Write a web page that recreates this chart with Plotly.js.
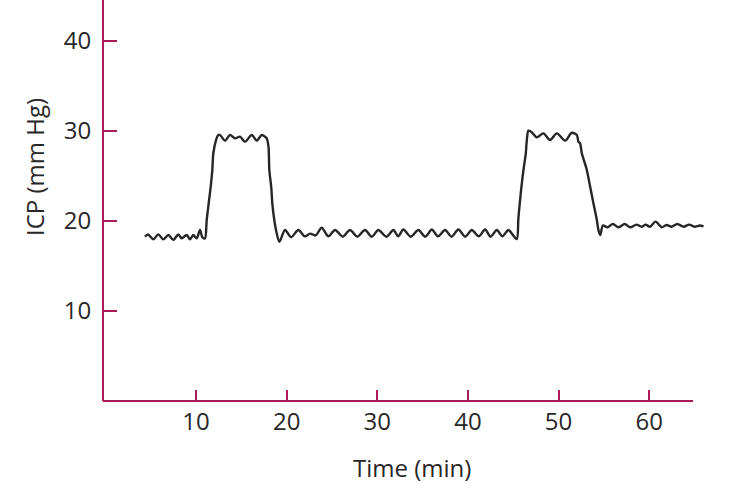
<!DOCTYPE html>
<html>
<head>
<meta charset="utf-8">
<script src="https://cdn.plot.ly/plotly-3.0.1.min.js"></script>
<style>html,body{margin:0;padding:0;background:#fff;}#chart{width:730px;height:494px;}</style>
</head>
<body>
<div id="chart"></div>
<script>
// Time (min) and ICP (mm Hg)
const timeMin = [
  4.37, 4.7, 5.29, 5.84, 6.39, 6.95, 7.5, 8.05, 8.42, 8.97, 9.34, 9.7, 10.08, 10.44, 10.7, 10.99,
  11.18, 11.4, 11.62, 11.8, 11.91, 12.21, 12.46,
  12.65, 13.2, 13.75, 14.3, 14.86, 15.41, 16.15, 16.7, 17.25, 17.62, 17.8,
  18.0, 18.09, 18.3, 18.42, 18.64, 18.83, 19.2,
  19.82, 20.5, 21.29, 22.0, 22.6, 23.2, 23.87, 24.6, 25.34, 26.2, 26.99, 27.8, 28.65, 29.4,
  30.12, 31.0, 31.78, 32.3, 32.88, 33.7, 34.54, 35.3, 36.02, 36.7, 37.48, 38.2, 38.95, 39.7,
  40.43, 41.2, 41.9, 42.5, 43.19, 43.8, 44.47, 45.0, 45.4,
  45.57, 45.76, 45.95, 46.13, 46.39, 46.5, 46.68,
  47.0, 47.6, 48.33, 49.07, 49.81, 50.73, 51.46, 52.02,
  52.2, 52.38, 52.57, 53.12, 53.49, 53.85, 54.23, 54.4, 54.6,
  54.9, 55.4, 56.0, 56.6, 57.3, 57.9, 58.6, 59.2, 59.6, 60.1, 60.7, 61.4, 61.9, 62.5, 63.1,
  63.8, 64.4, 65.0, 65.6, 66.0
];
const icpMmHg = [
  18.26, 18.5, 17.96, 18.52, 17.96, 18.45, 17.9, 18.52, 18.07, 18.45, 17.96, 18.45, 18.07, 19.0, 18.2, 18.07,
  20.1, 21.96, 23.8, 25.67, 27.5, 29.0, 29.56,
  29.56, 28.93, 29.56, 29.19, 29.37, 28.81, 29.56, 28.93, 29.56, 29.37, 29.2,
  28.26, 25.67, 23.8, 21.96, 20.1, 19.0, 17.7,
  19.0, 18.2, 19.0, 18.3, 18.6, 18.4, 19.26, 18.3, 19.0, 18.26, 19.0, 18.26, 19.0, 18.26,
  19.0, 18.26, 19.0, 18.3, 19.05, 18.26, 19.0, 18.26, 19.05, 18.3, 19.0, 18.26, 19.05, 18.26,
  19.0, 18.3, 19.05, 18.26, 19.0, 18.3, 19.0, 18.4, 18.0,
  20.3, 22.33, 24.19, 25.67, 27.52, 29.0, 30.04,
  29.9, 29.3, 29.74, 29.0, 29.74, 28.93, 29.81, 29.56,
  28.8, 28.63, 27.52, 25.67, 23.8, 21.96, 20.1, 19.0, 18.44,
  19.5, 19.3, 19.67, 19.3, 19.67, 19.3, 19.6, 19.37, 19.6, 19.37, 19.93, 19.3, 19.56, 19.37, 19.67,
  19.37, 19.6, 19.37, 19.5, 19.4
];
const xTicks = [10, 20, 30, 40, 50, 60];
const yTicks = [10, 20, 30, 40];
const xTitle = 'Time (min)';
const yTitle = 'ICP (mm Hg)';

const axisColor = '#a81c5c';
const textColor = '#2a2728';
const fontFam = '"Open Sans", "Noto Sans", sans-serif';

const trace = {
  x: timeMin, y: icpMmHg, type: 'scatter', mode: 'lines',
  line: {color: '#262626', width: 2.4, shape: 'spline', smoothing: 0.8},
  hoverinfo: 'skip'
};

const layout = {
  width: 730, height: 494,
  margin: {l: 104, r: 26, t: 0, b: 93},
  paper_bgcolor: '#fff', plot_bgcolor: '#fff',
  showlegend: false,
  font: {family: fontFam, size: 24, color: textColor},
  xaxis: {
    range: [-0.15, 66.05], showgrid: false, zeroline: false, showline: false,
    tickmode: 'array', tickvals: xTicks, ticktext: xTicks.map(String),
    ticks: 'inside', ticklen: 11, tickwidth: 2, tickcolor: axisColor,
    tickfont: {family: fontFam, size: 24, color: textColor},
    ticklabelstandoff: 4
  },
  yaxis: {
    range: [0, 44.56], showgrid: false, zeroline: false,
    showline: true, linecolor: axisColor, linewidth: 2,
    tickmode: 'array', tickvals: yTicks, ticktext: yTicks.map(String),
    ticks: 'inside', ticklen: 13, tickwidth: 2, tickcolor: axisColor,
    tickfont: {family: fontFam, size: 24, color: textColor},
    ticklabelstandoff: 6
  },
  shapes: [{
    type: 'line', xref: 'paper', yref: 'paper',
    x0: -0.002, x1: 0.9817, y0: 0, y1: 0,
    line: {color: axisColor, width: 2}
  }],
  annotations: [
    {text: xTitle, xref: 'paper', yref: 'paper', x: 0.5133, y: -0.1646,
     xanchor: 'center', yanchor: 'middle', showarrow: false,
     font: {family: fontFam, size: 24, color: textColor}},
    {text: yTitle, xref: 'paper', yref: 'paper', x: -0.1167, y: 0.5835,
     xanchor: 'center', yanchor: 'middle', showarrow: false, textangle: -90,
     font: {family: fontFam, size: 24, color: textColor}}
  ]
};

Plotly.newPlot('chart', [trace], layout, {displayModeBar: false, staticPlot: true});
</script>
</body>
</html>
